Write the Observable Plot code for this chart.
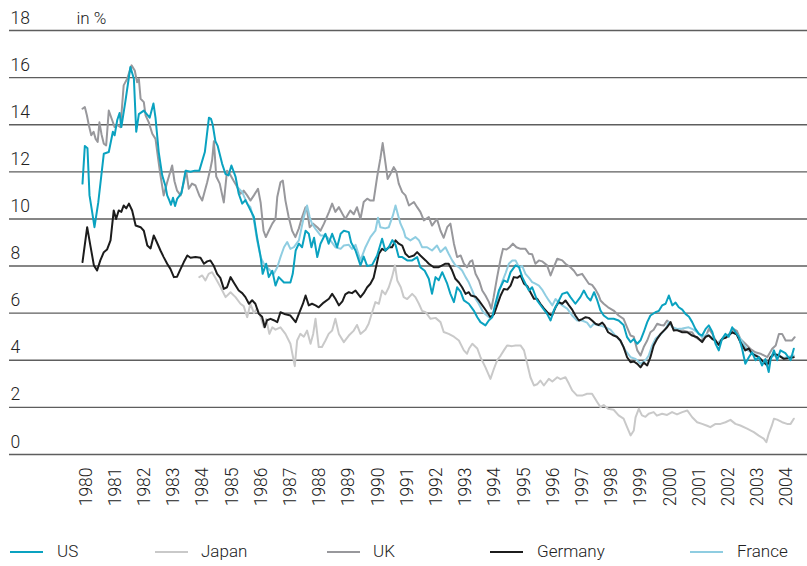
<!DOCTYPE html>
<html>
<head>
<meta charset="utf-8">
<script src="https://cdn.jsdelivr.net/npm/d3@7"></script>
<script src="https://cdn.jsdelivr.net/npm/@observablehq/plot@0.6"></script>
<style>
  html, body { margin: 0; padding: 0; background: #fff; }
  #wrap { width: 807px; font-family: Roboto, "Liberation Sans", sans-serif; font-weight: 300; color: #222; }
  g[aria-label="x-labels"] text { letter-spacing: 1.4px; }
  #legend { position: relative; width: 807px; height: 41px; }
  #legend .ln { position: absolute; top: 26px; width: 33px; height: 2px; }
  #legend .lb { position: absolute; top: 18px; font-size: 17px; line-height: 17px; white-space: nowrap; }
</style>
</head>
<body>
<div id="wrap"><div id="chart"></div><div id="legend"></div></div>
<script>
const yTicks = [0, 2, 4, 6, 8, 10, 12, 14, 16, 18];
const yearTicks = d3.range(1980, 2005);
const seriesNames = ["US", "Japan", "UK", "Germany", "France"];

const usData = [[1980.0,11.5],[1980.08,13.1],[1980.17,13.0],[1980.24,11.0],[1980.33,10.3],[1980.41,9.65],[1980.54,10.7],[1980.73,12.77],[1980.9,12.84],[1981.04,13.7],[1981.1,13.55],[1981.19,14.2],[1981.27,14.5],[1981.33,13.9],[1981.47,15.0],[1981.64,16.45],[1981.76,15.95],[1981.84,13.7],[1981.93,14.45],[1982.1,14.6],[1982.2,14.45],[1982.3,14.3],[1982.43,14.9],[1982.5,14.3],[1982.61,12.84],[1982.73,11.85],[1982.84,11.4],[1982.9,11.0],[1982.97,10.8],[1983.03,10.6],[1983.1,10.9],[1983.17,10.55],[1983.24,10.85],[1983.39,11.1],[1983.53,12.05],[1983.7,12.0],[1983.85,12.05],[1984.0,12.05],[1984.19,12.84],[1984.33,14.3],[1984.4,14.25],[1984.46,14.0],[1984.55,13.3],[1984.63,13.1],[1984.78,12.35],[1984.9,11.9],[1985.0,11.85],[1985.1,12.27],[1985.24,11.8],[1985.35,11.07],[1985.47,10.65],[1985.58,10.8],[1985.7,10.5],[1985.87,10.08],[1985.98,9.2],[1986.1,8.4],[1986.17,7.67],[1986.29,8.1],[1986.38,7.53],[1986.5,7.8],[1986.61,7.17],[1986.72,7.53],[1986.9,7.3],[1987.12,7.3],[1987.2,7.67],[1987.3,8.66],[1987.41,8.95],[1987.52,8.8],[1987.64,9.5],[1987.75,9.37],[1987.84,8.8],[1987.93,9.2],[1988.04,8.38],[1988.15,8.95],[1988.32,9.37],[1988.43,8.95],[1988.55,9.37],[1988.72,8.8],[1988.84,9.37],[1988.95,9.5],[1989.12,9.44],[1989.2,9.0],[1989.35,8.66],[1989.52,8.03],[1989.63,8.4],[1989.75,8.0],[1989.92,8.05],[1990.09,8.45],[1990.26,9.16],[1990.37,8.66],[1990.49,8.8],[1990.61,9.1],[1990.72,8.9],[1990.83,8.38],[1990.95,8.38],[1991.12,8.24],[1991.29,8.24],[1991.46,8.38],[1991.57,7.95],[1991.72,7.8],[1991.86,7.46],[1991.97,6.82],[1992.09,7.53],[1992.2,7.4],[1992.32,7.74],[1992.49,7.25],[1992.6,6.82],[1992.72,6.47],[1992.83,7.1],[1992.95,6.9],[1993.06,6.54],[1993.23,6.4],[1993.4,6.11],[1993.52,5.83],[1993.63,5.62],[1993.8,5.48],[1993.92,5.7],[1994.03,5.83],[1994.14,6.4],[1994.26,6.96],[1994.43,7.39],[1994.55,7.32],[1994.66,7.74],[1994.83,8.03],[1994.95,7.95],[1995.06,7.53],[1995.17,7.25],[1995.29,6.96],[1995.4,7.1],[1995.57,6.54],[1995.74,6.25],[1995.91,5.97],[1996.03,5.69],[1996.14,6.11],[1996.26,6.4],[1996.43,6.82],[1996.6,6.89],[1996.71,6.68],[1996.88,6.4],[1997.05,6.68],[1997.17,6.96],[1997.29,6.68],[1997.4,6.54],[1997.52,6.89],[1997.63,6.54],[1997.74,6.11],[1997.85,5.9],[1998.0,5.76],[1998.19,5.76],[1998.36,5.69],[1998.53,5.5],[1998.65,4.98],[1998.77,4.77],[1998.88,4.9],[1999.0,4.7],[1999.11,4.85],[1999.22,5.19],[1999.34,5.62],[1999.45,5.9],[1999.62,6.04],[1999.74,6.1],[1999.85,6.33],[1999.97,6.4],[2000.08,6.75],[2000.2,6.33],[2000.31,6.45],[2000.42,6.25],[2000.54,6.15],[2000.65,5.97],[2000.77,5.85],[2000.88,5.62],[2000.99,5.33],[2001.11,5.12],[2001.22,5.05],[2001.34,5.33],[2001.45,5.48],[2001.57,5.2],[2001.68,4.7],[2001.79,4.42],[2001.9,4.9],[2002.02,5.12],[2002.13,5.0],[2002.25,5.4],[2002.36,5.2],[2002.48,4.98],[2002.59,4.49],[2002.7,3.85],[2002.82,4.13],[2002.93,4.34],[2003.05,4.0],[2003.16,4.13],[2003.27,3.78],[2003.39,4.05],[2003.5,3.5],[2003.56,4.0],[2003.68,4.42],[2003.79,4.0],[2003.9,4.42],[2004.07,4.3],[2004.25,4.0],[2004.36,4.49]];

const japanData = [[1984.0,7.53],[1984.1,7.6],[1984.21,7.39],[1984.32,7.67],[1984.44,7.74],[1984.55,7.5],[1984.73,7.1],[1984.9,6.68],[1985.07,6.89],[1985.24,6.68],[1985.41,6.4],[1985.52,6.3],[1985.64,5.83],[1985.75,6.4],[1985.87,6.0],[1985.98,6.19],[1986.1,5.83],[1986.21,5.4],[1986.29,5.75],[1986.4,5.12],[1986.5,5.4],[1986.61,5.3],[1986.78,5.4],[1986.95,5.12],[1987.12,4.7],[1987.27,3.75],[1987.35,4.84],[1987.46,5.12],[1987.58,5.0],[1987.69,5.26],[1987.81,4.7],[1987.9,5.12],[1987.98,5.76],[1988.09,4.56],[1988.2,4.56],[1988.32,4.84],[1988.43,5.12],[1988.55,5.26],[1988.66,5.76],[1988.78,5.12],[1988.95,4.77],[1989.12,5.05],[1989.29,5.26],[1989.4,5.5],[1989.52,5.12],[1989.69,5.3],[1989.8,5.55],[1989.92,6.04],[1990.03,6.47],[1990.15,6.4],[1990.26,6.96],[1990.37,6.8],[1990.49,7.1],[1990.6,7.53],[1990.7,8.03],[1990.78,7.39],[1990.9,7.1],[1991.0,6.68],[1991.12,6.6],[1991.29,6.82],[1991.4,6.68],[1991.52,6.4],[1991.63,6.1],[1991.75,6.04],[1991.92,5.76],[1992.09,5.8],[1992.26,5.62],[1992.37,5.2],[1992.54,5.12],[1992.72,5.0],[1992.89,4.84],[1993.06,4.42],[1993.17,4.28],[1993.24,4.5],[1993.35,4.7],[1993.52,4.5],[1993.63,4.13],[1993.8,3.7],[1993.97,3.21],[1994.09,3.64],[1994.2,4.0],[1994.32,4.2],[1994.43,4.42],[1994.54,4.63],[1994.71,4.6],[1994.83,4.63],[1995.0,4.63],[1995.12,4.42],[1995.23,3.85],[1995.34,3.28],[1995.46,2.93],[1995.57,2.98],[1995.68,3.14],[1995.8,2.93],[1995.97,3.21],[1996.09,3.1],[1996.26,3.28],[1996.37,3.2],[1996.54,3.28],[1996.66,3.0],[1996.77,2.72],[1996.94,2.5],[1997.11,2.5],[1997.28,2.58],[1997.45,2.58],[1997.63,2.22],[1997.74,2.01],[1997.85,2.1],[1998.0,1.94],[1998.19,1.9],[1998.36,1.66],[1998.53,1.52],[1998.65,1.16],[1998.77,0.81],[1998.88,1.02],[1998.94,1.58],[1999.05,1.94],[1999.16,1.66],[1999.28,1.6],[1999.39,1.73],[1999.56,1.8],[1999.67,1.65],[1999.85,1.73],[2000.02,1.68],[2000.19,1.8],[2000.36,1.7],[2000.54,1.8],[2000.71,1.87],[2000.88,1.58],[2001.05,1.37],[2001.22,1.3],[2001.39,1.22],[2001.5,1.16],[2001.68,1.3],[2001.85,1.3],[2002.02,1.37],[2002.19,1.47],[2002.36,1.3],[2002.53,1.23],[2002.76,1.1],[2002.99,0.95],[2003.16,0.8],[2003.33,0.67],[2003.42,0.52],[2003.5,0.88],[2003.6,1.2],[2003.68,1.52],[2003.79,1.48],[2003.96,1.37],[2004.13,1.3],[2004.25,1.3],[2004.36,1.52]];

const ukData = [[1980.0,14.68],[1980.08,14.75],[1980.15,14.4],[1980.22,13.97],[1980.3,13.55],[1980.38,13.7],[1980.45,13.4],[1980.52,13.27],[1980.58,14.1],[1980.65,13.6],[1980.73,13.19],[1980.81,13.12],[1980.9,14.6],[1981.02,14.18],[1981.1,13.9],[1981.18,14.0],[1981.3,13.9],[1981.41,15.67],[1981.53,15.95],[1981.68,16.52],[1981.79,16.3],[1981.87,15.8],[1981.93,15.95],[1981.99,15.1],[1982.1,14.96],[1982.16,14.4],[1982.27,14.1],[1982.39,13.62],[1982.5,13.4],[1982.59,12.56],[1982.67,11.85],[1982.78,11.0],[1982.9,11.56],[1983.07,12.27],[1983.15,11.6],[1983.24,11.2],[1983.36,11.0],[1983.47,11.56],[1983.55,12.05],[1983.64,11.28],[1983.75,11.5],[1983.87,11.42],[1984.0,11.0],[1984.1,10.78],[1984.27,11.56],[1984.38,12.13],[1984.44,12.5],[1984.5,13.3],[1984.58,11.8],[1984.7,11.5],[1984.84,10.7],[1984.95,12.05],[1985.05,11.9],[1985.17,11.63],[1985.28,11.4],[1985.41,11.07],[1985.52,11.2],[1985.64,11.0],[1985.75,10.78],[1985.87,11.0],[1986.01,11.28],[1986.1,10.7],[1986.2,9.5],[1986.28,9.23],[1986.38,9.5],[1986.5,9.8],[1986.61,10.0],[1986.67,10.93],[1986.78,11.56],[1986.86,11.63],[1986.95,10.78],[1987.06,10.08],[1987.18,9.5],[1987.29,9.23],[1987.41,9.6],[1987.52,10.08],[1987.64,10.5],[1987.7,10.3],[1987.78,9.65],[1987.9,9.8],[1988.04,9.65],[1988.15,9.5],[1988.27,9.8],[1988.44,10.29],[1988.55,10.65],[1988.66,10.3],[1988.78,10.5],[1988.9,10.22],[1989.0,10.0],[1989.17,10.36],[1989.29,10.2],[1989.4,10.5],[1989.52,10.0],[1989.63,10.72],[1989.75,10.86],[1989.86,10.78],[1989.97,10.78],[1990.09,11.78],[1990.2,12.56],[1990.28,13.22],[1990.37,12.42],[1990.45,11.7],[1990.54,11.9],[1990.66,12.2],[1990.75,12.0],[1990.83,11.5],[1990.95,11.14],[1991.06,11.0],[1991.18,10.57],[1991.35,10.72],[1991.46,10.5],[1991.57,10.3],[1991.69,9.94],[1991.86,10.08],[1991.97,9.72],[1992.14,10.0],[1992.26,9.5],[1992.37,9.2],[1992.49,9.65],[1992.6,9.8],[1992.72,8.95],[1992.83,8.38],[1992.95,8.45],[1993.06,8.1],[1993.17,7.95],[1993.28,8.2],[1993.35,8.24],[1993.46,7.67],[1993.58,7.39],[1993.69,6.96],[1993.8,6.75],[1993.92,6.47],[1994.0,6.19],[1994.08,6.68],[1994.2,7.53],[1994.32,8.31],[1994.4,8.73],[1994.52,8.7],[1994.63,8.8],[1994.74,8.95],[1994.86,8.8],[1995.0,8.73],[1995.17,8.73],[1995.29,8.52],[1995.4,8.5],[1995.51,8.1],[1995.63,8.24],[1995.74,8.2],[1995.91,8.03],[1996.03,7.6],[1996.14,7.95],[1996.26,8.31],[1996.43,8.24],[1996.54,8.1],[1996.71,7.95],[1996.83,7.8],[1996.94,7.6],[1997.11,7.67],[1997.23,7.45],[1997.34,7.25],[1997.45,7.2],[1997.57,7.0],[1997.68,6.75],[1997.74,6.54],[1997.85,6.4],[1998.0,6.25],[1998.19,6.11],[1998.36,5.9],[1998.53,5.76],[1998.65,5.4],[1998.77,5.05],[1998.88,5.0],[1999.0,4.42],[1999.11,4.2],[1999.22,4.56],[1999.34,4.84],[1999.45,5.19],[1999.56,5.3],[1999.68,5.55],[1999.8,5.5],[1999.91,5.48],[2000.02,5.69],[2000.14,5.55],[2000.25,5.33],[2000.42,5.26],[2000.59,5.26],[2000.76,5.19],[2000.88,5.19],[2000.99,4.98],[2001.16,4.84],[2001.34,4.98],[2001.45,5.33],[2001.57,5.12],[2001.74,4.7],[2001.85,4.84],[2002.02,4.98],[2002.13,5.1],[2002.29,5.33],[2002.41,5.25],[2002.53,4.91],[2002.7,4.7],[2002.87,4.49],[2003.04,4.34],[2003.22,4.28],[2003.45,4.13],[2003.62,4.49],[2003.74,4.63],[2003.85,5.12],[2003.96,5.12],[2004.08,4.84],[2004.19,4.84],[2004.3,4.84],[2004.39,4.98]];

const germanyData = [[1980.0,8.17],[1980.16,9.65],[1980.27,8.87],[1980.39,8.03],[1980.5,7.81],[1980.61,8.24],[1980.73,8.59],[1980.84,8.7],[1980.96,9.09],[1981.07,10.36],[1981.15,10.0],[1981.24,10.36],[1981.33,10.3],[1981.41,10.57],[1981.5,10.45],[1981.59,10.65],[1981.7,10.36],[1981.82,9.72],[1981.99,9.65],[1982.1,9.5],[1982.22,8.87],[1982.33,8.75],[1982.44,9.3],[1982.55,9.0],[1982.67,8.66],[1982.78,8.38],[1982.9,8.1],[1983.01,7.88],[1983.13,7.53],[1983.24,7.55],[1983.36,7.88],[1983.47,8.17],[1983.59,8.45],[1983.7,8.35],[1983.87,8.38],[1984.04,8.35],[1984.16,8.1],[1984.27,8.2],[1984.38,8.24],[1984.5,8.0],[1984.61,7.67],[1984.72,7.5],[1984.84,7.03],[1984.95,7.1],[1985.07,7.53],[1985.18,7.3],[1985.35,6.96],[1985.47,6.85],[1985.58,6.68],[1985.7,6.4],[1985.81,6.55],[1985.92,6.4],[1986.04,5.97],[1986.15,5.85],[1986.24,5.4],[1986.32,5.7],[1986.44,5.76],[1986.55,5.7],[1986.67,5.62],[1986.78,6.04],[1986.95,5.95],[1987.12,5.9],[1987.3,5.62],[1987.41,5.97],[1987.55,6.4],[1987.64,6.75],[1987.75,6.33],[1987.86,6.4],[1987.98,6.33],[1988.09,6.25],[1988.26,6.45],[1988.44,6.61],[1988.55,6.82],[1988.66,6.61],[1988.78,6.33],[1988.9,6.5],[1989.0,6.8],[1989.12,6.89],[1989.23,6.85],[1989.35,6.96],[1989.52,6.68],[1989.63,6.85],[1989.75,7.1],[1989.86,7.25],[1989.97,7.5],[1990.09,8.17],[1990.15,8.52],[1990.26,8.73],[1990.37,8.65],[1990.49,8.8],[1990.6,8.8],[1990.72,9.09],[1990.83,8.95],[1990.95,8.87],[1991.06,8.52],[1991.18,8.38],[1991.35,8.45],[1991.46,8.59],[1991.57,8.45],[1991.75,8.24],[1991.86,8.1],[1992.03,7.95],[1992.2,7.95],[1992.32,8.03],[1992.43,8.1],[1992.54,8.1],[1992.66,7.81],[1992.77,7.46],[1992.89,7.3],[1993.0,7.1],[1993.12,6.82],[1993.23,6.89],[1993.3,6.75],[1993.46,6.7],[1993.57,6.54],[1993.74,6.25],[1993.86,6.04],[1993.97,5.83],[1994.09,5.95],[1994.2,6.33],[1994.32,6.75],[1994.43,7.03],[1994.55,7.0],[1994.66,7.17],[1994.77,7.53],[1994.89,7.5],[1995.0,7.6],[1995.12,7.25],[1995.23,7.15],[1995.34,6.89],[1995.46,6.61],[1995.57,6.61],[1995.68,6.4],[1995.8,6.2],[1995.97,5.97],[1996.08,5.9],[1996.2,6.25],[1996.31,6.47],[1996.43,6.4],[1996.54,6.54],[1996.66,6.33],[1996.77,6.15],[1996.88,5.9],[1997.0,5.69],[1997.11,5.75],[1997.23,5.83],[1997.34,5.8],[1997.45,5.69],[1997.57,5.55],[1997.68,5.5],[1997.8,5.6],[1997.88,5.48],[1998.0,5.19],[1998.19,5.05],[1998.3,5.0],[1998.42,4.84],[1998.53,4.56],[1998.65,4.13],[1998.77,3.92],[1998.88,3.95],[1999.0,3.85],[1999.11,3.7],[1999.22,3.9],[1999.34,3.78],[1999.45,4.13],[1999.56,4.63],[1999.68,4.91],[1999.8,5.12],[1999.91,5.26],[2000.02,5.4],[2000.14,5.62],[2000.25,5.26],[2000.36,5.28],[2000.54,5.19],[2000.71,5.19],[2000.88,5.05],[2001.05,4.98],[2001.22,4.77],[2001.34,5.0],[2001.45,5.05],[2001.57,4.9],[2001.68,4.84],[2001.79,4.65],[2001.9,4.91],[2002.02,4.95],[2002.13,5.05],[2002.25,5.19],[2002.4,5.1],[2002.53,4.77],[2002.7,4.42],[2002.82,4.5],[2002.93,4.28],[2003.05,4.2],[2003.16,4.13],[2003.33,3.92],[2003.45,3.78],[2003.56,4.13],[2003.68,4.28],[2003.85,4.2],[2004.02,4.06],[2004.19,4.1],[2004.36,4.13]];

const franceData = [[1985.35,11.3],[1985.47,11.14],[1985.64,10.65],[1985.75,10.5],[1985.87,9.94],[1985.98,9.09],[1986.1,8.38],[1986.21,8.1],[1986.32,7.95],[1986.44,7.8],[1986.55,7.67],[1986.67,7.95],[1986.78,8.38],[1986.9,8.8],[1987.01,9.02],[1987.12,8.73],[1987.24,8.8],[1987.41,9.09],[1987.58,10.08],[1987.69,10.57],[1987.78,10.08],[1987.86,9.8],[1987.98,9.58],[1988.15,9.3],[1988.32,9.3],[1988.49,9.09],[1988.66,8.8],[1988.84,8.73],[1988.95,8.87],[1989.12,8.9],[1989.23,8.73],[1989.35,8.9],[1989.52,8.24],[1989.69,8.8],[1989.86,9.23],[1990.03,9.5],[1990.12,10.05],[1990.2,9.65],[1990.37,9.6],[1990.49,9.65],[1990.63,10.15],[1990.72,10.57],[1990.81,10.15],[1990.89,9.8],[1991.0,9.5],[1991.06,9.23],[1991.23,9.09],[1991.4,9.23],[1991.52,9.1],[1991.63,8.8],[1991.8,8.8],[1991.97,8.66],[1992.14,8.87],[1992.26,8.6],[1992.43,8.8],[1992.54,8.52],[1992.66,8.24],[1992.77,8.03],[1992.89,7.95],[1993.0,7.81],[1993.12,7.53],[1993.23,7.3],[1993.35,6.96],[1993.46,6.61],[1993.57,6.4],[1993.69,6.11],[1993.8,5.95],[1993.92,5.83],[1994.03,5.83],[1994.14,6.19],[1994.26,6.89],[1994.37,7.32],[1994.49,7.7],[1994.6,8.1],[1994.72,8.24],[1994.83,8.24],[1994.95,7.95],[1995.06,8.0],[1995.17,7.67],[1995.29,7.5],[1995.4,7.32],[1995.51,7.25],[1995.63,7.17],[1995.74,7.0],[1995.86,6.75],[1995.97,6.54],[1996.09,6.33],[1996.2,6.6],[1996.31,6.45],[1996.43,6.33],[1996.6,6.19],[1996.77,5.9],[1996.94,5.69],[1997.11,5.69],[1997.28,5.6],[1997.4,5.4],[1997.51,5.55],[1997.63,5.5],[1997.8,5.45],[1997.91,5.4],[1998.08,5.3],[1998.25,5.05],[1998.42,4.84],[1998.59,4.42],[1998.77,4.13],[1998.94,4.06],[1999.11,3.85],[1999.28,4.0],[1999.39,4.2],[1999.51,4.63],[1999.62,4.91],[1999.8,5.1],[1999.97,5.33],[2000.08,5.62],[2000.2,5.4],[2000.37,5.33],[2000.54,5.35],[2000.76,5.4],[2000.93,5.3],[2001.05,5.19],[2001.22,4.98],[2001.39,5.1],[2001.56,4.95],[2001.74,4.7],[2001.9,4.9],[2002.08,5.05],[2002.25,5.2],[2002.42,5.1],[2002.59,4.8],[2002.76,4.45],[2002.93,4.3],[2003.1,4.2],[2003.27,4.0],[2003.45,3.85],[2003.6,4.15],[2003.8,4.25],[2004.0,4.1],[2004.2,4.15],[2004.36,4.2]];

const colors = { US: "#0aa2c0", Japan: "#c9c9c9", UK: "#98989c", Germany: "#1c1c1c", France: "#8fcde1" };
const seriesData = { US: usData, Japan: japanData, UK: ukData, Germany: germanyData, France: franceData };
const drawOrder = ["Japan", "UK", "France", "Germany", "US"];

const FONT = 'Roboto, "Liberation Sans", sans-serif';

const lineMarks = drawOrder.map(name =>
  Plot.line(seriesData[name], {
    x: d => d[0], y: d => d[1],
    stroke: colors[name], strokeWidth: 2, strokeLinejoin: "round", strokeLinecap: "round"
  })
);

const chart = Plot.plot({
  width: 807,
  height: 525,
  marginLeft: 9,
  marginRight: 0,
  marginTop: 0,
  marginBottom: 71,
  x: { type: "linear", domain: [1980, 2005], range: [82, 812], axis: null },
  y: { type: "linear", domain: [0, 18], range: [454, 30], axis: null },
  style: { fontFamily: FONT, fontWeight: 300, color: "#222", background: "#fff", overflow: "visible" },
  marks: [
    Plot.ruleY(yTicks, { stroke: "#5e5e5e", strokeWidth: 1.4 }),
    Plot.text(yTicks, {
      y: d => d, text: d => String(d), frameAnchor: "left", dx: 1, dy: -7,
      textAnchor: "start", lineAnchor: "bottom", fontSize: 17.5, fill: "#222", fontWeight: 300
    }),
    Plot.text(["in %"], {
      y: () => 18, text: d => d, frameAnchor: "left", dx: 67, dy: -7,
      textAnchor: "start", lineAnchor: "bottom", fontSize: 17, fill: "#222", fontWeight: 300
    }),
    Plot.text(yearTicks, {
      x: d => d, text: d => String(d), frameAnchor: "bottom", dy: 13, dx: 3.5,
      rotate: -90, textAnchor: "end", lineAnchor: "middle", fontSize: 17.5, fill: "#222",
      fontWeight: 300, ariaLabel: "x-labels"
    }),
    ...lineMarks
  ]
});
document.getElementById("chart").appendChild(chart);

// legend
const legendPos = { US: [10, 57], Japan: [155, 201], UK: [327, 373], Germany: [490, 537], France: [690, 737] };
const legend = document.getElementById("legend");
seriesNames.forEach(name => {
  const ln = document.createElement("span");
  ln.className = "ln";
  ln.style.left = legendPos[name][0] + "px";
  ln.style.background = colors[name];
  legend.appendChild(ln);
  const lb = document.createElement("span");
  lb.className = "lb";
  lb.style.left = legendPos[name][1] + "px";
  lb.textContent = name;
  legend.appendChild(lb);
});
</script>
</body>
</html>
